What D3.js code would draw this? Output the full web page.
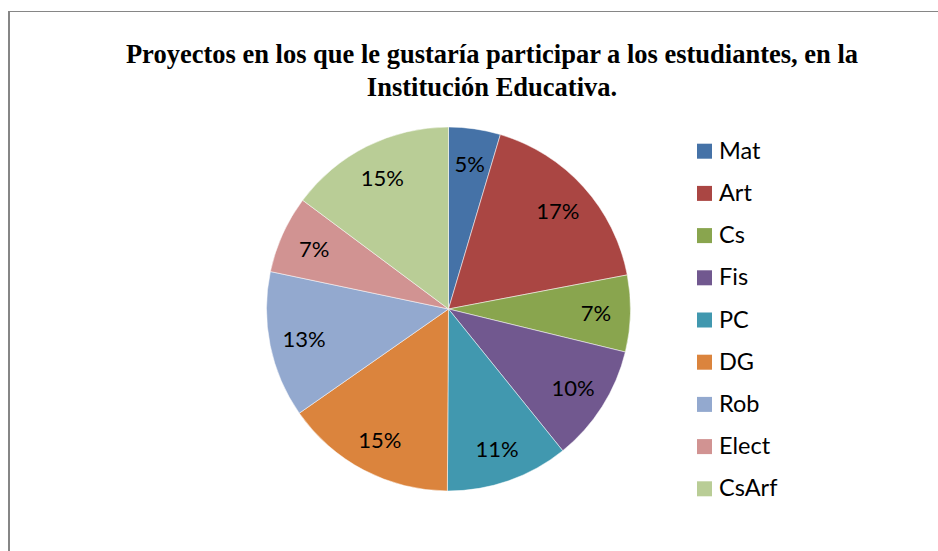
<!DOCTYPE html>
<html>
<head>
<meta charset="utf-8">
<script src="https://cdn.jsdelivr.net/npm/d3@7"></script>
<style>
  body { margin: 0; background: #fff; }
  svg { display: block; }
</style>
</head>
<body>
<div id="chart"></div>
<script>
// Data
const categories = ["Mat", "Art", "Cs", "Fis", "PC", "DG", "Rob", "Elect", "CsArf"];
const shares = [4.6, 17.4, 6.8, 10.4, 10.9, 15.2, 13.0, 6.9, 14.8];
const colors = ["#4572A7", "#AA4643", "#89A54E", "#71588F", "#4198AF", "#DB843D", "#93A9CF", "#D19392", "#B9CD96"];
const titleLines = ["Proyectos en los que le gustaría participar a los estudiantes, en la", "Institución Educativa."];

const width = 938;
const height = 551;
const cx = 448.5, cy = 309, radius = 182;

const svg = d3.select("#chart")
    .append("svg")
    .attr("width", width)
    .attr("height", height);

// Chart frame (only left and top edges visible)
svg.append("line")
    .attr("x1", 9).attr("x2", 9)
    .attr("y1", 11).attr("y2", height)
    .attr("stroke", "#868686").attr("stroke-width", 2);
svg.append("line")
    .attr("x1", 8).attr("x2", width)
    .attr("y1", 11.5).attr("y2", 11.5)
    .attr("stroke", "#868686").attr("stroke-width", 1);

// Title
svg.append("text")
    .attr("x", 492)
    .attr("text-anchor", "middle")
    .attr("font-family", "'Liberation Serif', 'Times New Roman', serif")
    .attr("font-weight", "bold")
    .attr("font-size", "26.5px")
    .selectAll("tspan")
    .data(titleLines)
    .join("tspan")
    .attr("x", 492)
    .attr("y", (d, i) => 63 + i * 33)
    .text(d => d);

// Pie
const data = categories.map((c, i) => ({ name: c, value: shares[i], color: colors[i] }));
const total = d3.sum(shares);

const pie = d3.pie()
    .sort(null)
    .value(d => d.value);

const arc = d3.arc()
    .innerRadius(0)
    .outerRadius(radius);

const labelArc = d3.arc()
    .innerRadius(radius * 0.81)
    .outerRadius(radius * 0.81);

const g = svg.append("g")
    .attr("transform", `translate(${cx},${cy})`);

const arcs = pie(data);

g.selectAll("path")
    .data(arcs)
    .join("path")
    .attr("d", arc)
    .attr("fill", d => d.data.color)
    .attr("stroke", "#fff")
    .attr("stroke-width", 0.5);

g.selectAll("text")
    .data(arcs)
    .join("text")
    .attr("transform", d => `translate(${labelArc.centroid(d)})`)
    .attr("text-anchor", "middle")
    .attr("dominant-baseline", "central")
    .attr("font-family", "Lato, 'Open Sans', sans-serif")
    .attr("font-size", "22px")
    .attr("fill", "#000")
    .text(d => Math.round(d.data.value / total * 100) + "%");

// Legend
const legend = svg.append("g")
    .attr("transform", "translate(697,150.7)");

const item = legend.selectAll("g")
    .data(data)
    .join("g")
    .attr("transform", (d, i) => `translate(0,${i * 42.2})`);

item.append("rect")
    .attr("x", 0)
    .attr("y", -7)
    .attr("width", 15)
    .attr("height", 15)
    .attr("fill", d => d.color);

item.append("text")
    .attr("x", 22)
    .attr("y", -1)
    .attr("dominant-baseline", "central")
    .attr("font-family", "Lato, 'Open Sans', sans-serif")
    .attr("font-size", "23.5px")
    .attr("fill", "#000")
    .text(d => d.name);
</script>
</body>
</html>
